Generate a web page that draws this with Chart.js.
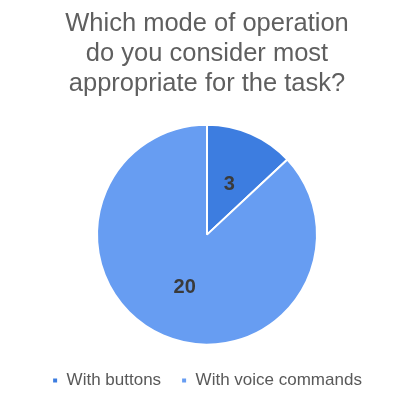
<!DOCTYPE html>
<html>
<head>
<meta charset="utf-8">
<script src="https://cdn.jsdelivr.net/npm/chart.js@4/dist/chart.umd.min.js"></script>
<style>
html,body{margin:0;padding:0;background:#fff;}
#wrap{width:414px;height:405px;position:relative;}
</style>
</head>
<body>
<div id="wrap"><canvas id="c" width="414" height="405"></canvas></div>
<script>
const titleLines = ["Which mode of operation", "do you consider most", "appropriate for the task?"];
const categories = ["With buttons", "With voice commands"];
const values = [3, 20];
const colors = ["#3d7de0", "#679df2"];

const labelPlugin = {
  id: 'sliceLabels',
  afterDatasetsDraw(chart) {
    const ctx = chart.ctx;
    const meta = chart.getDatasetMeta(0);
    ctx.save();
    ctx.font = 'bold 20px "Liberation Sans", Arial, sans-serif';
    ctx.fillStyle = '#3a3a3a';
    ctx.textAlign = 'center';
    ctx.textBaseline = 'middle';
    meta.data.forEach((arc, i) => {
      const p = arc.getProps(['x','y','startAngle','endAngle','outerRadius'], true);
      const mid = (p.startAngle + p.endAngle) / 2;
      const r = p.outerRadius * 0.51;
      ctx.fillText(String(values[i]), p.x + Math.cos(mid) * r, p.y + Math.sin(mid) * r + 1);
    });
    ctx.restore();
  }
};

new Chart(document.getElementById('c'), {
  type: 'pie',
  data: {
    labels: categories,
    datasets: [{
      data: values,
      backgroundColor: colors,
      borderColor: '#ffffff',
      borderWidth: 2,
      radius: 110
    }]
  },
  options: {
    responsive: false,
    animation: false,
    layout: { padding: { top: 0, bottom: 6, left: 0, right: 0 } },
    plugins: {
      title: {
        display: true,
        text: titleLines,
        color: '#5f5f5f',
        font: { family: '"Liberation Sans", Arial, sans-serif', size: 25.5, weight: 'normal', lineHeight: 1.18 },
        padding: { top: 9, bottom: 18 }
      },
      legend: {
        position: 'bottom',
        labels: {
          color: '#595959',
          font: { family: '"Liberation Sans", Arial, sans-serif', size: 17 },
          usePointStyle: true,
          pointStyle: 'rect',
          boxWidth: 6,
          boxHeight: 6,
          padding: 20
        }
      },
      tooltip: { enabled: false }
    }
  },
  plugins: [labelPlugin]
});
</script>
</body>
</html>
